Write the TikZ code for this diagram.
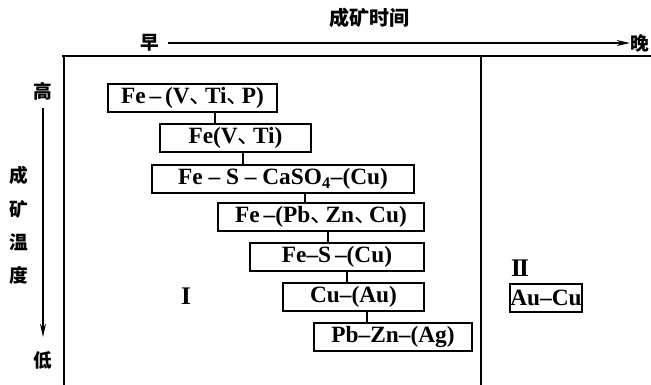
\documentclass[tikz,border=0pt]{standalone}
\usepackage{fontspec}
\setmainfont{Liberation Serif}
\newfontfamily\cjk{Noto Sans CJK SC}
\usetikzlibrary{arrows.meta}
\newcommand{\dn}{{\cjk\mdseries 、}\kern-.35em}

\begin{document}
\begin{tikzpicture}[
    x=0.75pt, y=-0.75pt,
    ore/.style={draw, line width=1.4pt, inner sep=0pt, minimum height=21pt,
                font=\fontsize{17.5}{20}\selectfont\bfseries},
    cnlab/.style={font=\cjk\bfseries\fontsize{14}{16}\selectfont, inner sep=0pt},
    frame/.style={line width=1.5pt},
    axis/.style={line width=1.2pt, -{Stealth[length=10pt,width=4.5pt]}},
    link/.style={line width=1.4pt},
  ]
    \useasboundingbox (0,0) rectangle (651,385);

    % frame
    \draw[frame] (62,56) -- (651,56);
    \draw[frame] (64,56) -- (64,385);
    \draw[frame] (481,56) -- (481,385);

    % time axis
    \node[cnlab, font=\cjk\bfseries\fontsize{15}{17}\selectfont] (title) at (369,18) {成矿时间};
    \node[cnlab] (early) at (150,43) {早};
    \node[cnlab] (late) at (640,43) {晚};
    \draw[axis] (early.east) ++(6pt,0) coordinate (t0) -- (late.west -| 630,0) coordinate (t1);

    % temperature axis
    \node[cnlab] (high) at (43,91) {高};
    \node[cnlab] (low) at (43,360) {低};
    \draw[axis] (high.south) ++(0,-6pt) -- (43,337);
    \node[cnlab] (t1c) at (19,175) {成};
    \node[cnlab] (t2c) at (19,209) {矿};
    \node[cnlab] (t3c) at (19,242) {温};
    \node[cnlab] (t4c) at (19,275) {度};

    % ore types, stage I
    \node[ore, minimum width=126.75pt] (b1) at (192.5,98) {Fe\,–\,(V\dn Ti\dn P)};
    \node[ore, minimum width=113.25pt] (b2) at (235.5,138) {Fe(V\dn Ti)};
    \node[ore, minimum width=196.5pt] (b3) at (283,179) {Fe – S – CaSO\textsubscript{4}–(Cu)};
    \node[ore, minimum width=154.5pt] (b4) at (321,217) {Fe\,–(Pb\dn Zn\dn Cu)};
    \node[ore, minimum width=130.5pt] (b5) at (337,257) {Fe–S\,–(Cu)};
    \node[ore, minimum width=105.75pt] (b6) at (353.5,297) {Cu–(Au)};
    \node[ore, minimum width=118.5pt] (b7) at (393,337) {Pb–Zn–(Ag)};

    \draw[link] (b1.south -| 215,0) -- (b2.north -| 215,0);
    \draw[link] (b2.south -| 243,0) -- (b3.north -| 243,0);
    \draw[link] (b3.south -| 305,0) -- (b4.north -| 305,0);
    \draw[link] (b4.south -| 328,0) -- (b5.north -| 328,0);
    \draw[link] (b5.south -| 347,0) -- (b6.north -| 347,0);
    \draw[link] (b6.south -| 367,0) -- (b7.north -| 367,0);

    % stage II
    \node[ore, minimum width=54pt] (b8) at (546,298) {Au–Cu};

    \node[font=\fontsize{19}{21}\selectfont\bfseries] (st1) at (186,296) {I};
    \node[font=\fontsize{19}{21}\selectfont\bfseries] (st2) at (520,268) {I\kern-1.5pt I};
  \end{tikzpicture}
\end{document}
